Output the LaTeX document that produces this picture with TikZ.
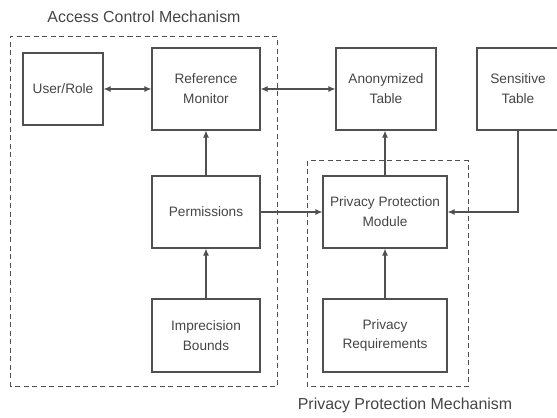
\documentclass[tikz,border=0pt]{standalone}
\usepackage{fontspec}
\setmainfont{Liberation Sans}
\usetikzlibrary{arrows.meta}
\definecolor{linegray}{HTML}{505050}
\definecolor{textgray}{HTML}{454545}

\begin{document}
\begin{tikzpicture}[>={Latex[length=7bp,width=6bp]},
						block/.style={draw=linegray, line width=1.1bp,
						align=center, inner sep=0pt, text=textgray,
						font=\fontsize{13.7}{20}\selectfont},
						frame/.style={draw=linegray, line width=1bp,
						dash pattern=on 5bp off 3.5bp},
						link/.style={draw=linegray, line width=1.1bp},
						caption/.style={text=textgray,
						font=\fontsize{16}{19}\selectfont}]

		\useasboundingbox (0bp,0bp) rectangle (557bp,418bp);

		\draw[frame] (10bp,31bp) rectangle (277bp,381bp);
		\draw[frame] (307bp,31bp) rectangle (468bp,257bp);
		\node[caption] (acmlabel) at (144bp,401bp) {Access Control Mechanism};
		\node[caption] (ppmlabel) at (405bp,13bp) {Privacy Protection Mechanism};

		\node[block, minimum width=80bp, minimum height=72bp] (user) at (63bp,329bp) {User/Role};
		\node[block, minimum width=108bp, minimum height=82bp] (refmon) at (206bp,329bp) {Reference\\Monitor};
		\node[block, minimum width=100bp, minimum height=82bp] (anontable) at (386bp,329bp) {Anonymized\\Table};
		\node[block, minimum width=82bp, minimum height=82bp] (senstable) at (518bp,329bp) {Sensitive\\Table};
		\node[block, minimum width=108bp, minimum height=72bp] (perms) at (206bp,206bp) {Permissions};
		\node[block, minimum width=124bp, minimum height=72bp] (ppmodule) at (385bp,206bp) {Privacy Protection\\Module};
		\node[block, minimum width=108bp, minimum height=73bp] (imprecision) at (206bp,82.5bp) {Imprecision\\Bounds};
		\node[block, minimum width=124bp, minimum height=73bp] (privreq) at (385bp,82.5bp) {Privacy\\Requirements};

		\draw[link, <->] (user.east) -- (refmon.west);
		\draw[link, <->] (refmon.east) -- (anontable.west);
		\draw[link, ->] (perms.north) -- (refmon.south);
		\draw[link, ->] (imprecision.north) -- (perms.south);
		\draw[link, ->] (perms.east) -- (ppmodule.west);
		\draw[link, ->] (ppmodule.north) -- (anontable.south -| ppmodule.north);
		\draw[link, ->] (privreq.north) -- (ppmodule.south);
		\draw[link, ->] (senstable.south) |- (ppmodule.east);

	\end{tikzpicture}
\end{document}
